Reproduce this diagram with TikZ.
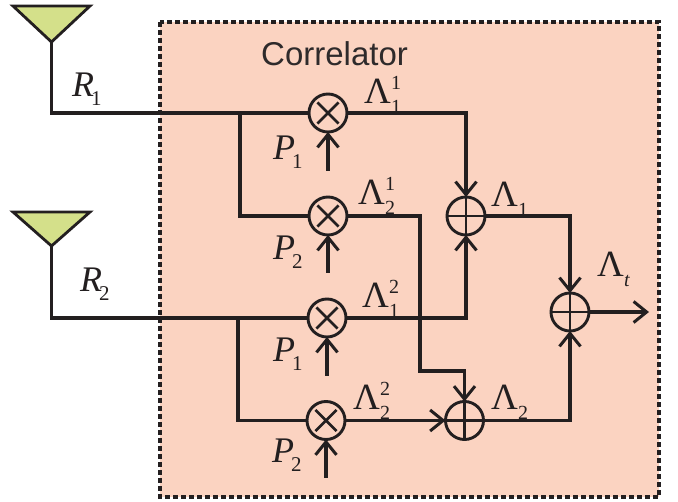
\documentclass[tikz,border=0pt]{standalone}
\usepackage{fontspec}
\setmainfont{Liberation Serif}
\newfontfamily\corrfont{Liberation Sans}
\usetikzlibrary{arrows.meta}
\definecolor{ink}{HTML}{231F20}
\definecolor{boxfill}{HTML}{FBD3C1}
\definecolor{antfill}{HTML}{D4E08A}
\newcommand\smallfs{\fontsize{20}{20}\selectfont}
\newcommand\Lss[2]{Λ\rlap{\raisebox{0.40em}{\smallfs #1}}\raisebox{-0.26em}{\smallfs #2}}
\newcommand\Ls[1]{Λ\raisebox{-0.26em}{\smallfs #1}}
\newcommand\Vs[2]{\textit{#1}\kern-3pt\raisebox{-0.25em}{\fontsize{21}{21}\selectfont #2}}
\begin{document}
\begin{tikzpicture}[x=1pt,y=-1pt,
  wire/.style={draw=ink,line width=3.2pt},
  arr/.style={-{Straight Barb[length=13pt,width=21pt,line width=3pt]}},
  corrbox/.style={draw=ink,fill=boxfill,line width=3.2pt,dash pattern=on 5pt off 3pt},
  antenna/.style={draw=ink,fill=antfill,line width=2.8pt,line join=miter},
  mixer/.style={circle,draw=ink,line width=2.9pt,minimum size=38pt,inner sep=0pt,outer sep=0pt,
    path picture={\draw[ink,line width=2.7pt] (path picture bounding box.center) +(45:15pt) -- +(225:15pt)
      (path picture bounding box.center) +(135:15pt) -- +(315:15pt);}},
  adder/.style={circle,draw=ink,line width=2.9pt,minimum size=38pt,inner sep=0pt,outer sep=0pt,
    path picture={\draw[ink,line width=2.7pt] (path picture bounding box.center) +(0:18pt) -- +(180:18pt)
      (path picture bounding box.center) +(90:18pt) -- +(270:18pt);}},
  lam/.style={anchor=base west,inner sep=0pt,text=ink,font=\fontsize{37}{37}\selectfont},
  var/.style={anchor=base west,inner sep=0pt,text=ink,font=\fontsize{36}{36}\selectfont},
]
\useasboundingbox (0,0) rectangle (678,502);
\draw[corrbox] (160,22) rectangle (659,497);
\node[anchor=base west,inner sep=0pt,text=ink!95,font=\corrfont\fontsize{33}{33}\selectfont] (ttl) at (261,66) {Correlator};

% antennas
\draw[antenna] (13,6) -- (90,6) -- (51.5,42) -- cycle;
\draw[antenna] (13,212) -- (90,212) -- (51.5,246) -- cycle;
\coordinate (t1) at (51.5,42);
\coordinate (t2) at (51.5,246);

% mixers and adders
\node[mixer] (m1) at (328,113) {};
\node[mixer] (m2) at (328,216) {};
\node[mixer] (m3) at (327,318) {};
\node[mixer] (m4) at (326,420.5) {};
\node[adder] (a1) at (466,216) {};
\node[adder] (a2) at (464.5,420.5) {};
\node[adder] (a3) at (570,312) {};

% coordinates
\coordinate (b1) at (240,113);
\coordinate (b2) at (238,318);
\coordinate (p1) at (328,171);
\coordinate (p2) at (328,273);
\coordinate (p3) at (327,376);
\coordinate (p4) at (326,478);
\coordinate (j1) at (420,371);
\coordinate (out) at (649,312);

% wires
\draw[wire] (t1) |- (m1.west);
\draw[wire] (b1) |- (m2.west);
\draw[wire] (t2) |- (m3.west);
\draw[wire] (b2) |- (m4.west);
\draw[wire,arr] (p1) -- (m1.south);
\draw[wire,arr] (p2) -- (m2.south);
\draw[wire,arr] (p3) -- (m3.south);
\draw[wire,arr] (p4) -- (m4.south);
\draw[wire,arr] (m1.east) -| (a1.north);
\draw[wire,arr] (m3.east) -| (a1.south);
\draw[wire,arr] (m2.east) -| (j1) -| (a2.north);
\draw[wire,arr] (m4.east) -- (a2.west);
\draw[wire,arr] (a1.east) -| (a3.north);
\draw[wire,arr] (a2.east) -| (a3.south);
\draw[wire,arr] (a3.east) -- (out);

% labels
\node[var] (lr1) at (72,97) {\Vs{R}{1}};
\node[var] (lr2) at (80,292) {\Vs{R}{2}};
\node[var] (lp1) at (273,160) {\Vs{P}{1}};
\node[var] (lp2) at (273,260) {\Vs{P}{2}};
\node[var] (lp3) at (273,362) {\Vs{P}{1}};
\node[var] (lp4) at (272,463) {\Vs{P}{2}};
\node[lam] (l11) at (364,104) {\Lss{1}{1}};
\node[lam] (l21) at (358,205) {\Lss{1}{2}};
\node[lam] (l12) at (362,308) {\Lss{2}{1}};
\node[lam] (l22) at (353,410) {\Lss{2}{2}};
\node[lam] (l1) at (491,207) {\Ls{1}};
\node[lam] (l2) at (491,410) {\Ls{2}};
\node[lam] (lt) at (597,277) {\Ls{\textit{t}}};
\end{tikzpicture}
\end{document}
